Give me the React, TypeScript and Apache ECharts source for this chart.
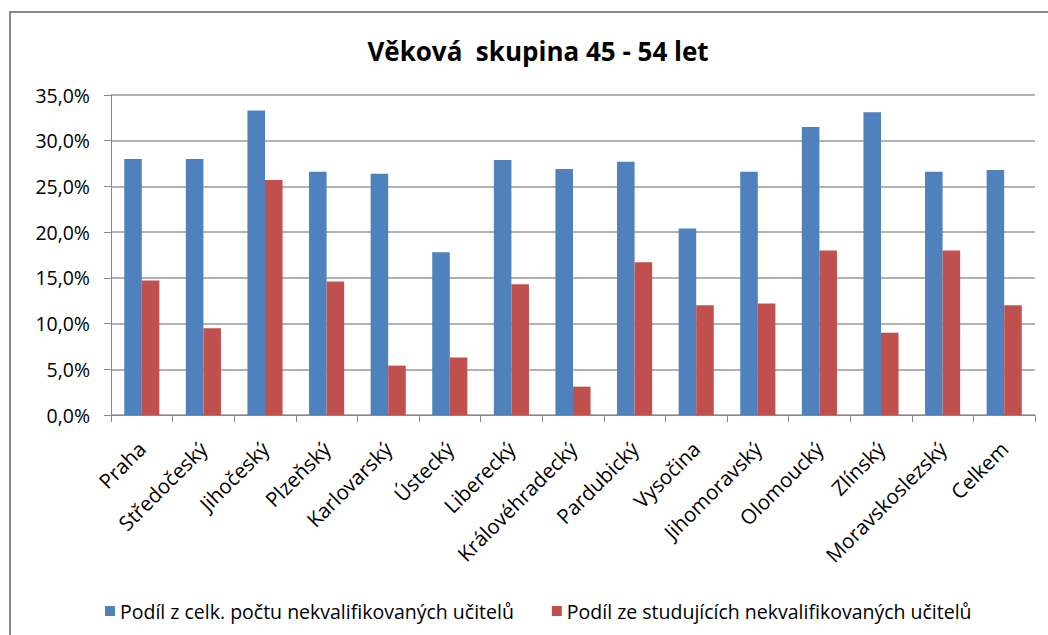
import React, { useEffect, useRef } from "react";
import * as echarts from "echarts";

const categories = [
  "Praha", "Středočeský", "Jihočeský", "Plzeňský", "Karlovarský", "Ústecký",
  "Liberecký", "Královéhradecký", "Pardubický", "Vysočina", "Jihomoravský",
  "Olomoucký", "Zlínský", "Moravskoslezský", "Celkem",
];
const seriesNames = [
  "Podíl z celk. počtu nekvalifikovaných učitelů",
  "Podíl ze studujících nekvalifikovaných učitelů",
];
const totalShare = [28.0, 28.0, 33.3, 26.6, 26.4, 17.8, 27.9, 26.9, 27.7, 20.4, 26.6, 31.5, 33.1, 26.6, 26.8];
const studyingShare = [14.7, 9.5, 25.7, 14.6, 5.4, 6.3, 14.3, 3.1, 16.7, 12.0, 12.2, 18.0, 9.0, 18.0, 12.0];
const titleText = "Věková  skupina 45 - 54 let";

const FONT = "'Open Sans', 'Noto Sans', sans-serif";

export default function App() {
  const ref = useRef<HTMLDivElement>(null);
  useEffect(() => {
    if (!ref.current) return;
    const chart = echarts.init(ref.current, undefined, { renderer: "svg" });
    chart.setOption({
      animation: false,
      backgroundColor: "#ffffff",
      title: {
        text: titleText,
        left: 533,
        textAlign: "center",
        top: 33,
        textStyle: { fontFamily: FONT, fontSize: 26, fontWeight: "bold", color: "#000" },
      },
      graphic: [
        {
          type: "rect",
          shape: { x: 10, y: 12, width: 1200, height: 800 },
          style: { fill: "none", stroke: "#888888", lineWidth: 2 },
          silent: true,
        },
      ],
      legend: {
        left: 100,
        top: 596,
        itemWidth: 10,
        itemHeight: 10,
        itemGap: 38,
        icon: "rect",
        textStyle: { fontFamily: FONT, fontSize: 19.5, color: "#000" },
        data: seriesNames,
      },
      grid: { left: 111, right: 13, top: 95, bottom: 220 },
      xAxis: {
        type: "category",
        data: categories,
        axisLine: { lineStyle: { color: "#888888", width: 1 } },
        axisTick: { show: true, length: 7, alignWithLabel: false, lineStyle: { color: "#888888" } },
        axisLabel: {
          rotate: 45,
          interval: 0,
          margin: 30,
          fontFamily: FONT,
          fontSize: 20.5,
          color: "#000",
        },
      },
      yAxis: {
        type: "value",
        min: 0,
        max: 35,
        interval: 5,
        axisLine: { show: true, lineStyle: { color: "#888888", width: 1 } },
        axisTick: { show: true, length: 7, inside: false, lineStyle: { color: "#888888" } },
        splitLine: { show: true, lineStyle: { color: "#999999", width: 1.5 } },
        axisLabel: {
          margin: 21,
          fontFamily: FONT,
          fontSize: 19.5,
          color: "#000",
          formatter: (v: number) => v.toFixed(1).replace(".", ",") + "%",
        },
      },
      series: [
        {
          name: seriesNames[0],
          type: "bar",
          data: totalShare,
          barGap: "0%",
          barCategoryGap: "43%",
          itemStyle: { color: "#4F81BD" },
        },
        {
          name: seriesNames[1],
          type: "bar",
          data: studyingShare,
          barGap: "0%",
          barCategoryGap: "43%",
          itemStyle: { color: "#C0504D" },
        },
      ],
    });
    return () => chart.dispose();
  }, []);
  return (
    <div
      ref={ref}
      style={{ position: "fixed", left: 0, top: 0, width: 1048, height: 635, background: "#fff" }}
    />
  );
}
